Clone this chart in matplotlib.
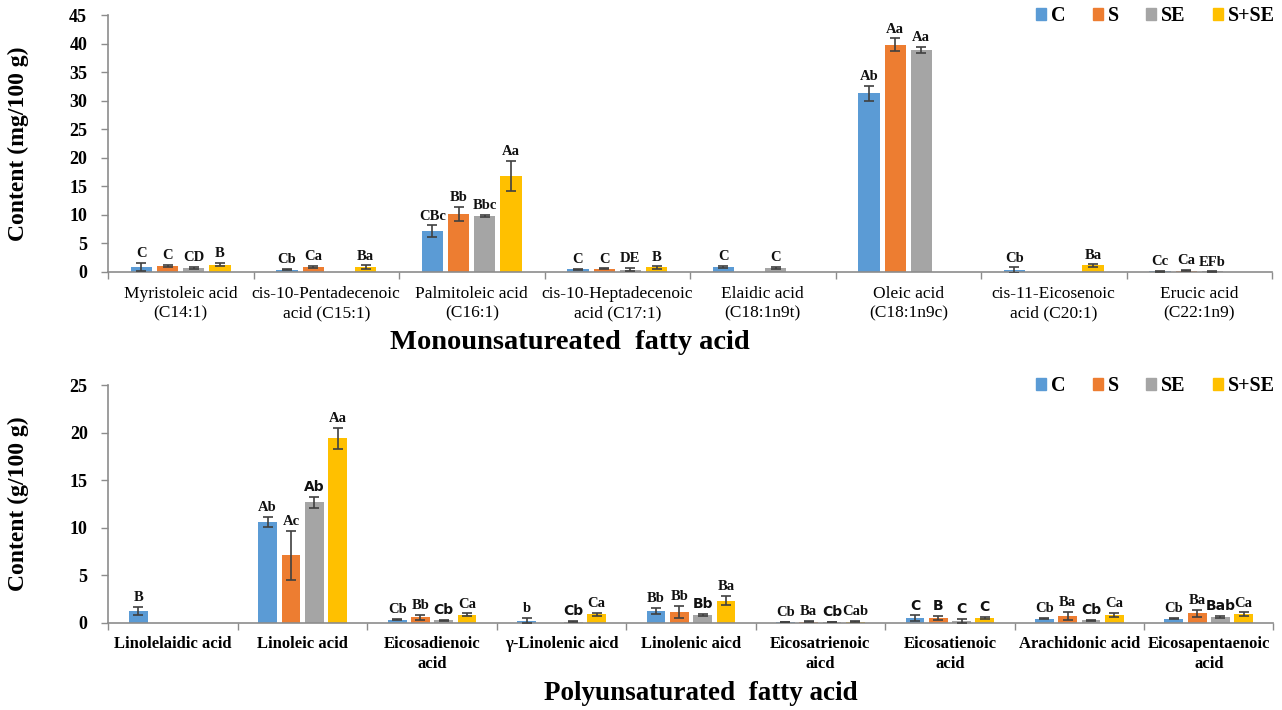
import numpy as np
import matplotlib
matplotlib.use("Agg")
import matplotlib.pyplot as plt
from matplotlib.patches import Patch

plt.rcParams['font.family'] = ['Liberation Serif', 'DejaVu Serif']

series = ['C', 'S', 'SE', 'S+SE']
colors = ['#5B9BD5', '#ED7D31', '#A5A5A5', '#FFC000']

# ---- monounsaturated (mg/100 g)
mono_cats = ['Myristoleic acid\n(C14:1)', 'cis-10-Pentadecenoic\nacid (C15:1)',
             'Palmitoleic acid\n(C16:1)', 'cis-10-Heptadecenoic\nacid (C17:1)',
             'Elaidic acid\n(C18:1n9t)', 'Oleic acid\n(C18:1n9c)',
             'cis-11-Eicosenoic\nacid (C20:1)', 'Erucic acid\n(C22:1n9)']
mono_C = [0.87, 0.4, 7.17, 0.45, 0.87, 31.3, 0.3, 0.1]
mono_S = [1.05, 0.85, 10.15, 0.55, 0, 39.8, 0, 0.25]
mono_SE = [0.7, 0, 9.75, 0.4, 0.75, 38.9, 0, 0.1]
mono_SSE = [1.3, 0.8, 16.8, 0.8, 0, 0, 1.15, 0]
mono_C_err = [0.75, 0.1, 1.0, 0.15, 0.15, 1.3, 0.5, 0.03]
mono_S_err = [0.2, 0.2, 1.3, 0.1, 0, 1.1, 0, 0.1]
mono_SE_err = [0.15, 0, 0.2, 0.3, 0.2, 0.5, 0, 0.02]
mono_SSE_err = [0.25, 0.35, 2.6, 0.2, 0, 0, 0.2, 0]
mono_C_lab = ['C', 'Cb', 'CBc', 'C', 'C', 'Ab', 'Cb', 'Cc']
mono_S_lab = ['C', 'Ca', 'Bb', 'C', '', 'Aa', '', 'Ca']
mono_SE_lab = ['CD', '', 'Bbc', 'DE', 'C', 'Aa', '', 'EFb']
mono_SSE_lab = ['B', 'Ba', 'Aa', 'B', '', '', 'Ba', '']

# ---- polyunsaturated (g/100 g)
poly_cats = ['Linolelaidic acid', 'Linoleic acid', 'Eicosadienoic\nacid',
             'γ-Linolenic aicd', 'Linolenic aicd', 'Eicosatrienoic\naicd',
             'Eicosatienoic\nacid', 'Arachidonic acid', 'Eicosapentaenoic\nacid']
poly_C = [1.24, 10.6, 0.3, 0.2, 1.18, 0.05, 0.45, 0.4, 0.4]
poly_S = [0, 7.07, 0.55, 0, 1.1, 0.1, 0.5, 0.7, 0.97]
poly_SE = [0, 12.65, 0.22, 0.1, 0.8, 0.05, 0.15, 0.25, 0.6]
poly_SSE = [0, 19.4, 0.82, 0.85, 2.3, 0.1, 0.45, 0.8, 0.86]
poly_C_err = [0.4, 0.5, 0.08, 0.3, 0.33, 0.02, 0.3, 0.05, 0.05]
poly_S_err = [0, 2.6, 0.25, 0, 0.65, 0.03, 0.2, 0.4, 0.35]
poly_SE_err = [0, 0.55, 0.08, 0.05, 0.1, 0.02, 0.2, 0.05, 0.1]
poly_SSE_err = [0, 1.1, 0.15, 0.2, 0.5, 0.05, 0.1, 0.25, 0.2]
poly_C_lab = ['B', 'Ab', 'Cb', 'b', 'Bb', 'Cb', 'C', 'Cb', 'Cb']
poly_S_lab = ['', 'Ac', 'Bb', '', 'Bb', 'Ba', 'B', 'Ba', 'Ba']
poly_SE_lab = ['', 'Ab', 'Cb', 'Cb', 'Bb', 'Cb', 'C', 'Cb', 'Bab']
poly_SSE_lab = ['', 'Aa', 'Ca', 'Ca', 'Ba', 'Cab', 'C', 'Ca', 'Ca']
# labels that were typeset in a sans font in the original
poly_sans = {(1, 2), (2, 2), (3, 2), (4, 2), (5, 2), (6, 0), (6, 1), (6, 2), (6, 3),
             (7, 2), (8, 2)}

W, H = 1282, 710
fig = plt.figure(figsize=(W / 100, H / 100), dpi=100)
ax1 = fig.add_axes([108 / W, 1 - 272 / H, 1164 / W, 257 / H])
ax2 = fig.add_axes([108.5 / W, 1 - 622.5 / H, 1165 / W, 237.5 / H])


def draw(ax, cats, vals, errs, labs, sans=set(), tick_bold=False, lab_size=10.5,
         legend_y=15):
    n = len(cats)
    x = np.arange(n)
    step, width = 0.18, 0.145
    for j in range(4):
        xs = x + (j - 1.5) * step
        v = np.array(vals[j], dtype=float)
        e = np.array(errs[j], dtype=float)
        ax.bar(xs, v, width, color=colors[j], zorder=2)
        mask = v > 0
        ax.errorbar(xs[mask], v[mask], yerr=e[mask], fmt='none', ecolor='#404040',
                    elinewidth=1.2, capsize=3.5, capthick=1.2, zorder=3)
        for i in range(n):
            if labs[j][i]:
                if (i, j) in sans:
                    fam, fs = ['DejaVu Sans'], lab_size - 0.5
                else:
                    fam, fs = ['Liberation Serif'], lab_size
                ax.annotate(labs[j][i], (xs[i], v[i] + e[i]), xytext=(0, 2),
                            textcoords='offset points', ha='center', va='bottom',
                            fontsize=fs, fontweight='bold', family=fam, color='#111111')
    ax.set_xlim(-0.5, n - 0.5)
    ax.set_xticks(x)
    ax.set_xticklabels(cats, fontsize=12 if tick_bold else 12.5,
                       fontweight='bold' if tick_bold else 'normal', linespacing=1.3)
    ax.set_xticks(np.arange(n + 1) - 0.5, minor=True)
    ax.tick_params(axis='x', which='major', length=0, pad=10)
    ax.tick_params(axis='x', which='minor', length=5, color='#8c8c8c', width=1)
    ax.tick_params(axis='y', length=5, color='#8c8c8c', width=1, labelsize=13, pad=10)
    for s in ['top', 'right']:
        ax.spines[s].set_visible(False)
    for s in ['left', 'bottom']:
        ax.spines[s].set_color('#8c8c8c')
        ax.spines[s].set_linewidth(1.2)
    handles = [Patch(color=c, label=s) for c, s in zip(colors, series)]
    fig.legend(handles=handles, ncol=4, loc='center right',
               bbox_to_anchor=(1275 / W, 1 - legend_y / H),
               frameon=False, handlelength=0.5, handleheight=0.5, handletextpad=0.25,
               columnspacing=1.35, borderpad=0, borderaxespad=0,
               prop={'family': 'Liberation Serif', 'weight': 'bold', 'size': 14.5})


draw(ax1, mono_cats, [mono_C, mono_S, mono_SE, mono_SSE],
     [mono_C_err, mono_S_err, mono_SE_err, mono_SSE_err],
     [mono_C_lab, mono_S_lab, mono_SE_lab, mono_SSE_lab], lab_size=10.5, legend_y=16)
ax1.set_ylim(0, 45)
ax1.set_yticks(np.arange(0, 46, 5))
for t in ax1.get_yticklabels():
    t.set_fontweight('bold')
ax1.set_ylabel('Content (mg/100 g)', fontsize=17, fontweight='bold', va='center')
ax1.yaxis.set_label_coords(-(108 - 18) / 1164, 0.5)
ax1.set_xlabel('Monounsatureated  fatty acid', fontsize=20.5, fontweight='bold')
ax1.xaxis.set_label_coords((570 - 108) / 1164, -(343 - 272) / 257)
ax1.xaxis.label.set_va('center')

draw(ax2, poly_cats, [poly_C, poly_S, poly_SE, poly_SSE],
     [poly_C_err, poly_S_err, poly_SE_err, poly_SSE_err],
     [poly_C_lab, poly_S_lab, poly_SE_lab, poly_SSE_lab], sans=poly_sans,
     tick_bold=True, lab_size=10.5, legend_y=386)
ax2.set_ylim(0, 25)
ax2.set_yticks(np.arange(0, 26, 5))
for t in ax2.get_yticklabels():
    t.set_fontweight('bold')
ax2.set_ylabel('Content (g/100 g)', fontsize=17, fontweight='bold', va='center')
ax2.yaxis.set_label_coords(-(108.5 - 18) / 1165, 0.5)
ax2.set_xlabel('Polyunsaturated  fatty acid', fontsize=19.5, fontweight='bold')
ax2.xaxis.set_label_coords((544 - 108.5) / 1165, -(693 - 622.5) / 237.5)
ax2.xaxis.label.set_va('center')
ax2.xaxis.label.set_ha('left')

fig.savefig('out.png', dpi=100)
